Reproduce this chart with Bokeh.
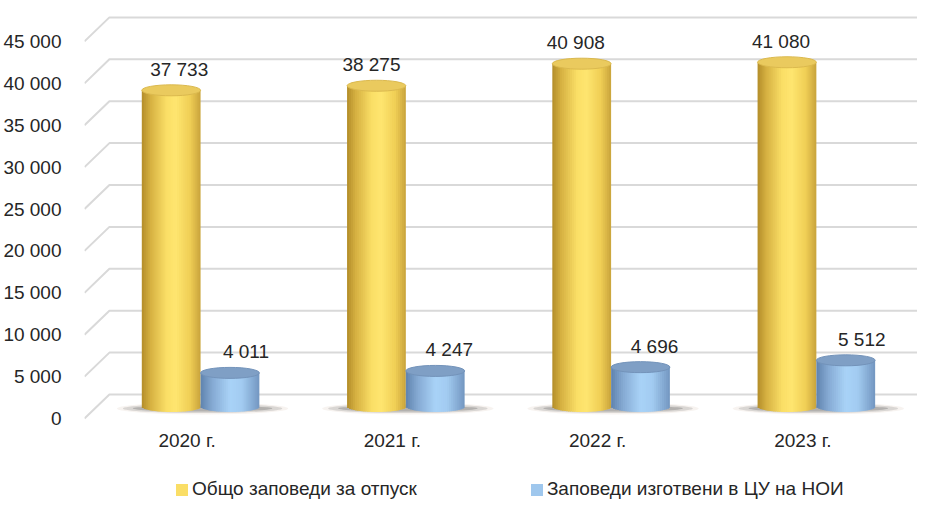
import numpy as np
from bokeh.plotting import figure
from bokeh.models import ColumnDataSource, FixedTicker, Legend, LegendItem, Range1d
from bokeh.core.properties import value
from bokeh.embed import file_html
from bokeh.resources import INLINE

# ---------------- data ----------------
years = ["2020 г.", "2021 г.", "2022 г.", "2023 г."]
total_orders = [37733, 38275, 40908, 41080]
cu_orders = [4011, 4247, 4696, 5512]
series_names = ["Общо заповеди за отпуск", "Заповеди изготвени в ЦУ на НОИ"]
y_ticks = [0, 5000, 10000, 15000, 20000, 25000, 30000, 35000, 40000, 45000]
y_tick_labels = ["0", "5 000", "10 000", "15 000", "20 000", "25 000",
                 "30 000", "35 000", "40 000", "45 000"]

# ---------------- geometry / style ----------------
FONT = "Liberation Sans"
FS = "19px"
TXT = "#262626"
W, H = 917, 500
MBL = 81
K = 0.00838            # px per value unit
DEPTH = 1432           # 12 px of 3-D depth expressed in value units
STEP = 206.0           # px between categories
PAIR_OFF = 13.5 / STEP # bar pair centre relative to category label
BW = 59.0 / STEP       # cylinder width in x units
x_start = -103.0 / STEP
x_end = x_start + (W - MBL) / STEP
x_back = x_start + 25.0 / STEP
ZERO_PX = 406.0        # y pixel of the bars' zero level
y_start = -(H - ZERO_PX) / K
y_end = ZERO_PX / K

p = figure(width=W, height=H, output_backend="svg", toolbar_location=None,
           x_range=Range1d(x_start, x_end), y_range=Range1d(y_start, y_end),
           x_axis_location=None,
           min_border_left=MBL, min_border_right=0, min_border_top=0,
           min_border_bottom=0)
p.outline_line_color = None
p.xgrid.visible = False
p.ygrid.visible = False
p.background_fill_color = "white"

# y axis
p.yaxis.ticker = FixedTicker(ticks=[t - DEPTH for t in y_ticks])
p.yaxis.major_label_overrides = {t - DEPTH: lab for t, lab in zip(y_ticks, y_tick_labels)}
p.yaxis.axis_line_color = None
p.yaxis.major_tick_line_color = None
p.yaxis.minor_tick_line_color = None
p.yaxis.major_label_text_font = FONT
p.yaxis.major_label_text_font_size = FS
p.yaxis.major_label_text_color = TXT
p.yaxis.major_label_standoff = 17

# 3-D gridlines (back wall + floor diagonal)
xs, ys = [], []
for t in y_ticks:
    xs.append([x_start, x_back, x_end])
    ys.append([t - DEPTH, t + DEPTH, t + DEPTH])
p.multi_line(xs, ys, line_color="#D9D9D9", line_width=2)

# floor shadows
for i in range(len(years)):
    cx = i + PAIR_OFF + 2.0 / STEP
    for w, h, a, c in [(172, 12, 0.10, "#B08870"), (160, 9, 0.18, "#555555"),
                       (140, 6, 0.25, "#444444")]:
        p.ellipse(x=[cx], y=[-2.0 / K], width=w / STEP, height=h,
                  height_units="screen", fill_color=c, fill_alpha=a,
                  line_color=None)


def lerp_profile(stops, t):
    pos = [s[0] for s in stops]
    cols = [tuple(int(s[1][k:k + 2], 16) for k in (1, 3, 5)) for s in stops]
    r = np.interp(t, pos, [c[0] for c in cols])
    g = np.interp(t, pos, [c[1] for c in cols])
    b = np.interp(t, pos, [c[2] for c in cols])
    return "#%02x%02x%02x" % (int(r), int(g), int(b))


yellow_prof = [(0.0, "#B48E2A"), (0.15, "#D6B142"), (0.42, "#FBDF67"),
               (0.58, "#FFE670"), (0.82, "#F0CF56"), (1.0, "#C9A43C")]
blue_prof = [(0.0, "#5F83AE"), (0.2, "#86AAD3"), (0.5, "#A9D3F8"),
             (0.7, "#A3CCF2"), (1.0, "#7397C1")]
top_cols = ["#EACA5E", "#7F9FC5"]
top_line = ["#DBB94E", "#7393BA"]
profiles = [yellow_prof, blue_prof]
label_dx = [[8, -5, -6, -6], [16, 14, 14, 16]]
label_dy = [-21, -21]

N = 30
half_h_val = 5.5 / K
overlap = 1.0 / STEP
body_renderers = []
for s, vals in enumerate([total_orders, cu_orders]):
    left, right, top, bottom, color = [], [], [], [], []
    cxs = []
    for i, v in enumerate(vals):
        cx = i + PAIR_OFF + (s - 0.5) * BW
        cxs.append(cx)
        edges = np.linspace(cx - BW / 2, cx + BW / 2, N + 1)
        for j in range(N):
            um = ((edges[j] + edges[j + 1]) / 2 - cx) / (BW / 2)
            left.append(edges[j])
            right.append(edges[j + 1] + (overlap if j < N - 1 else 0.0))
            top.append(v)
            bottom.append(-half_h_val * np.sqrt(max(0.0, 1 - um * um)))
            color.append(lerp_profile(profiles[s], (j + 0.5) / N))
    src = ColumnDataSource(dict(left=left, right=right, top=top, bottom=bottom, color=color))
    body_renderers.append(
        p.quad(left="left", right="right", top="top", bottom="bottom", source=src,
               fill_color="color", line_color=None))
    p.ellipse(x=cxs, y=vals, width=BW, height=11, height_units="screen",
              fill_color=top_cols[s], line_color=top_line[s], line_width=1)
    lab_src = ColumnDataSource(dict(
        x=cxs, y=vals, text=[f"{v:,}".replace(",", " ") for v in vals],
        dx=label_dx[s]))
    p.text(x="x", y="y", text="text", x_offset="dx", source=lab_src,
           text_font=value(FONT), text_font_size=FS, text_color=TXT,
           text_align="center", text_baseline="middle", y_offset=label_dy[s])

# category labels
p.text(x=list(range(len(years))), y=[-(440.0 - ZERO_PX) / K] * len(years),
       text=years, text_font=value(FONT), text_font_size=FS, text_color=TXT,
       text_align="center", text_baseline="middle")

# legend (uses the bright strip of each cylinder series as its swatch)
items = [LegendItem(label=series_names[s], renderers=[body_renderers[s]],
                    index=int(N * 0.4)) for s in range(2)]
legend = Legend(items=items, orientation="horizontal", location=(90, 0),
                glyph_width=15, glyph_height=15, label_standoff=3, spacing=112,
                padding=0, margin=0, border_line_alpha=0,
                background_fill_alpha=0, label_text_font=FONT,
                label_text_font_size=FS, label_text_color=TXT)
p.add_layout(legend, "center")

open("out.html", "w").write(file_html(p, INLINE))
